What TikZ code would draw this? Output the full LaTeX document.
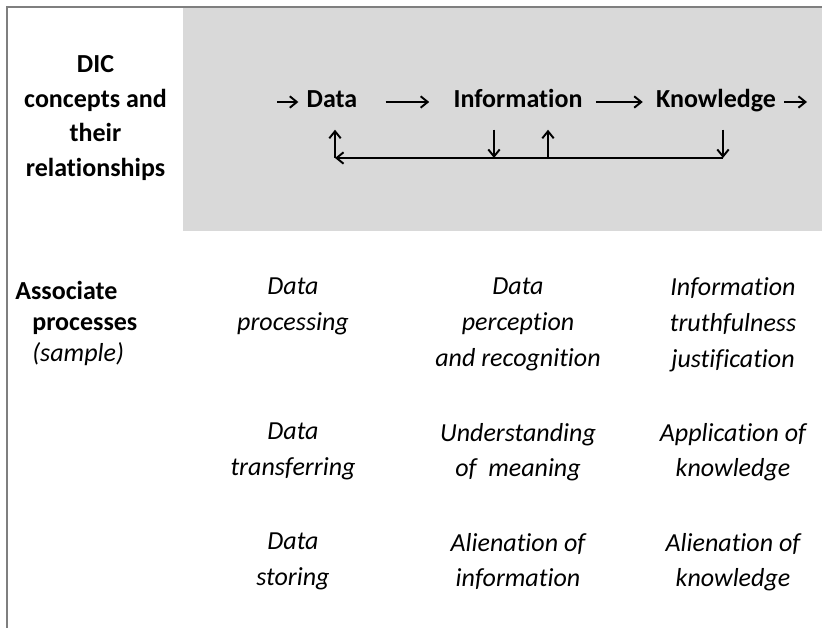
\documentclass[tikz,border=0pt]{standalone}
\usepackage{fontspec}
\setmainfont{Carlito}[Ligatures=NoCommon]
\usetikzlibrary{arrows.meta}

\definecolor{bandgray}{HTML}{D9D9D9}
\definecolor{framegray}{HTML}{7F7F7F}

\tikzset{
  concept/.style={font=\bfseries\fontsize{14.8}{17.8}\selectfont, inner xsep=0.16cm, inner ysep=0.3cm,
    text height=10.4pt, text depth=3.7pt},
  heading/.style={font=\bfseries\fontsize{14.8}{19.6}\selectfont, align=center, anchor=north, inner sep=0pt},
  process/.style={font=\itshape\fontsize{14.8}{20.3}\selectfont, align=center, anchor=north, inner sep=0pt},
  flow/.style={line width=1.1pt, -{Straight Barb[length=4pt,width=6.5pt]}},
}

\begin{document}
\begin{tikzpicture}[x=0.02cm, y=-0.02cm]
\useasboundingbox (0,0) rectangle (822,628);
% grey band and frame
  \fill[bandgray] (183,8) rectangle (822,231);
  \draw[framegray, line width=1pt] (822,7) -- (7,7) -- (7,628);

% row headings
  \node[heading] (dic) at (95.5,55.5) {DIC\\concepts and\\their\\relationships};
  \node[heading, anchor=north west, align=left, font=\bfseries\fontsize{14.8}{17.6}\selectfont] (assoc) at (15,281)
    {Associate\\\hspace*{0.34cm}processes\\\hspace*{0.34cm}{\mdseries\itshape (sample)}};

% the chain
  \node[concept] (data) at (332,102) {Data};
  \node[concept] (info) at (518,102) {Information};
  \node[concept] (know) at (716,102) {Knowledge};
  \coordinate (entry) at (277,102);
  \coordinate (exit) at (807,102);
  \draw[flow] (entry) -- (data);
  \draw[flow, shorten <=0.4cm, shorten >=0.32cm] (data) -- (info);
  \draw[flow, shorten <=0.1cm, shorten >=0.1cm] (info) -- (know);
  \draw[flow] (know) -- (exit);

% feedback loop underneath
  \coordinate (kturn) at (723,158);
  \coordinate (dturn) at (335,158);
  \coordinate (idown) at (494,158);
  \coordinate (iup) at (548,158);
  \draw[flow] (know.south -| kturn) -- (kturn);
  \draw[flow] (kturn) -- (dturn);
  \draw[flow] (dturn) -- (data.south -| dturn);
  \draw[flow] (info.south -| idown) -- (idown);
  \draw[flow] (iup) -- (info.south -| iup);

% processes, one column per concept
  \node[process] (dproc) at (293,277.7) {Data\\processing};
  \node[process] (dtrans) at (293,422.7) {Data\\transferring};
  \node[process] (dstor) at (293,532.7) {Data\\storing};
  \node[process] (iperc) at (518,277.7) {Data\\perception\\and recognition};
  \node[process] (iund) at (518,422.7) {Understanding\\of\ \ meaning};
  \node[process] (ialien) at (518,532.7) {Alienation of\\information};
  \node[process] (kjust) at (733,277.7) {Information\\truthfulness\\justification};
  \node[process] (kappl) at (733,422.7) {Application of\\knowledge};
  \node[process] (kalien) at (733,532.7) {Alienation of\\knowledge};
\end{tikzpicture}
\end{document}
